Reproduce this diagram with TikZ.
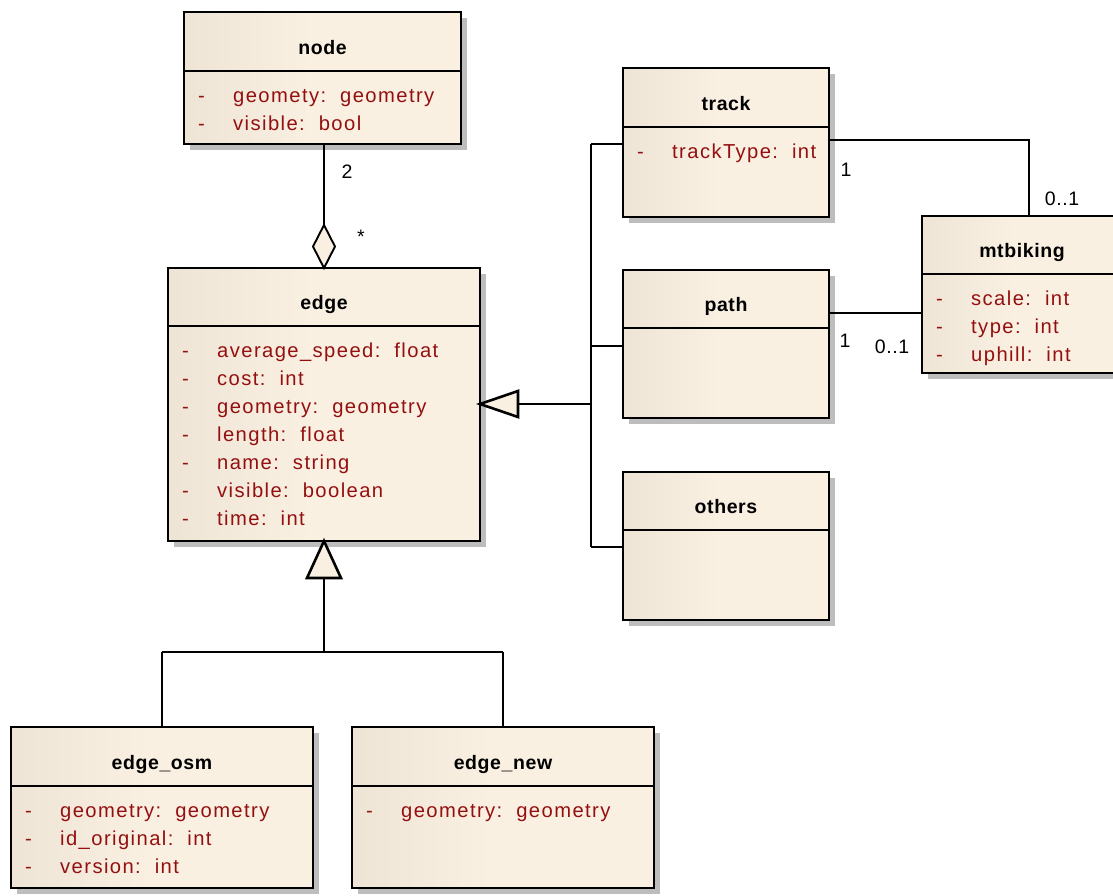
\documentclass[tikz,border=0pt]{standalone}
\usepackage{fontspec}
\setmainfont{Liberation Sans}[LetterSpace=3]
\newfontfamily\attrfont{Liberation Sans}[LetterSpace=7]
\usetikzlibrary{calc}

\definecolor{umlL}{HTML}{E1D8C8}
\definecolor{umlR}{HTML}{FAF0E2}
\definecolor{attrred}{HTML}{941010}
\definecolor{shadowgray}{HTML}{BDBDBD}
\pgfdeclarehorizontalshading{umlfill}{100bp}{color(0bp)=(umlL); color(48bp)=(umlR); color(100bp)=(umlR)}

\tikzset{
  classbox/.style={draw=black, line width=2pt, shading=umlfill, rectangle, outer sep=0pt, inner sep=0pt},
  boxline/.style={line width=2pt},
  classtitle/.style={font=\fontsize{19.5}{23}\selectfont\bfseries, inner sep=0pt},
  attrtxt/.style={font=\attrfont\fontsize{20.2}{23}\selectfont, text=attrred, inner sep=0pt},
  mult/.style={font=\fontsize{19.5}{23}\selectfont, inner sep=0pt},
  conn/.style={line width=1.9pt, line join=miter},
  genline/.style={line width=2.6pt},
}

% class box: name, left, top, right, bottom, header line y, title
\newcommand\umlclass[7]{%
  \fill[shadowgray] (#2+6,#3+6) rectangle (#4+6,#5+6);
  \node[classbox, anchor=north west, minimum width={#4-#2}, minimum height={#5-#3}] (#1) at (#2,#3) {};
  \coordinate (#1-hdr) at (#2,#6);
  \draw[boxline] (#1-hdr) -- (#1.east |- #1-hdr);
  \node[classtitle, anchor=base] (#1-title) at ({(#2+#4)/2},{(#3+#6)/2+12.5}) {#7};
}
% attribute row: class, row number, text
\newcommand\umlattr[3]{%
  \node[attrtxt, anchor=base west] (#1-m#2) at ([xshift=14pt, yshift={-31.5-(#2-1)*28}]#1-hdr) {-};
  \node[attrtxt, anchor=base west] (#1-a#2) at ([xshift=49pt, yshift={-31.5-(#2-1)*28}]#1-hdr) {#3};
}
\newcommand\cs{:\hspace{14pt}}

\begin{document}
\begin{tikzpicture}[x=1pt, y=-1pt]
\clip (0,0) rectangle (1113,895);
\fill[white] (0,0) rectangle (1113,895);

% classes
\umlclass{node}{184}{12}{461}{144}{71}{node}
\umlattr{node}{1}{geomety\cs geometry}
\umlattr{node}{2}{visible\cs bool}

\umlclass{edge}{168}{268}{480}{541}{326}{edge}
\umlattr{edge}{1}{average\_speed\cs float}
\umlattr{edge}{2}{cost\cs int}
\umlattr{edge}{3}{geometry\cs geometry}
\umlattr{edge}{4}{length\cs float}
\umlattr{edge}{5}{name\cs string}
\umlattr{edge}{6}{visible\cs boolean}
\umlattr{edge}{7}{time\cs int}

\umlclass{track}{623}{68}{829}{217}{127}{track}
\umlattr{track}{1}{trackType\cs int}

\umlclass{path}{623}{270}{829}{418}{328}{path}

\umlclass{others}{623}{472}{829}{620}{530}{others}

\umlclass{mtbiking}{922}{216}{1122}{373}{274}{mtbiking}
\umlattr{mtbiking}{1}{scale\cs int}
\umlattr{mtbiking}{2}{type\cs int}
\umlattr{mtbiking}{3}{uphill\cs int}

\umlclass{edgeosm}{11}{727}{313}{888}{786}{edge\_osm}
\umlattr{edgeosm}{1}{geometry\cs geometry}
\umlattr{edgeosm}{2}{id\_original\cs int}
\umlattr{edgeosm}{3}{version\cs int}

\umlclass{edgenew}{352}{727}{654}{888}{786}{edge\_new}
\umlattr{edgenew}{1}{geometry\cs geometry}

% aggregation node -- edge
\draw[conn] (node.south -| edge.north) -- ([yshift=43pt]edge.north);
\draw[conn, fill=umlR] (edge.north) -- ++(11,-21.5) -- ++(-11,-21.5) -- ++(-11,21.5) -- cycle;
\node[mult, anchor=base] (m-node) at (347,178) {2};
\node[mult, anchor=base] (m-edge) at (361,243) {*};

% generalization track/path/others -> edge
\coordinate (gtip) at (edge.east |- 0,404);
\coordinate (gbase) at (518,404);
\coordinate (bus-top) at (591,144);
\coordinate (bus-mid) at (591,346);
\coordinate (bus-bot) at (591,547);
\draw[genline] (gbase) -- (gbase -| bus-top);
\draw[conn] (bus-top) -- (bus-bot);
\draw[conn] (bus-top) -- (track.west |- bus-top);
\draw[conn] (bus-mid) -- (path.west |- bus-mid);
\draw[conn] (bus-bot) -- (others.west |- bus-bot);
\draw[genline, fill=umlR] (gtip) -- (518,391) -- (518,417) -- cycle;

% generalization edge_osm/edge_new -> edge
\coordinate (btip) at (edge.south);
\coordinate (bjoin) at (324,652);
\draw[conn] ([yshift=-37pt]btip) -- (bjoin);
\draw[conn] (edgeosm.north |- bjoin) -- (edgenew.north |- bjoin);
\draw[conn] (edgeosm.north |- bjoin) -- (edgeosm.north);
\draw[conn] (edgenew.north |- bjoin) -- (edgenew.north);
\draw[genline, fill=umlR] (btip) -- ++(17,37) -- ++(-34,0) -- cycle;

% associations with mtbiking
\coordinate (tm-corner) at (1029,140);
\draw[conn] (track.east |- tm-corner) -- (tm-corner) -- (tm-corner |- mtbiking.north);
\node[mult, anchor=base] (m-track) at (846,176) {1};
\node[mult, anchor=base] (m-mt1) at (1062,205) {0..1};
\draw[conn] (path.east |- 0,313) -- (mtbiking.west |- 0,313);
\node[mult, anchor=base] (m-path) at (845,347) {1};
\node[mult, anchor=base] (m-mt2) at (892,353) {0..1};
\end{tikzpicture}
\end{document}
